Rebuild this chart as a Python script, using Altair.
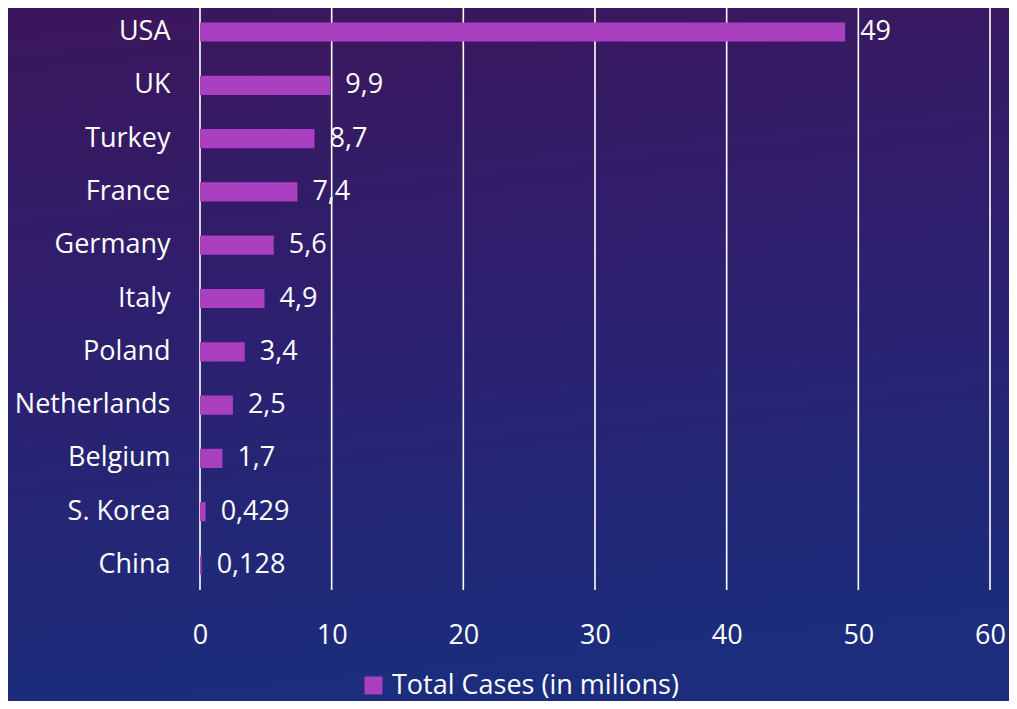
import altair as alt
import pandas as pd

countries = ["USA", "UK", "Turkey", "France", "Germany", "Italy", "Poland",
             "Netherlands", "Belgium", "S. Korea", "China"]
cases = [49, 9.9, 8.7, 7.4, 5.6, 4.9, 3.4, 2.5, 1.7, 0.429, 0.128]
ticks = [0, 10, 20, 30, 40, 50, 60]
series_name = "Total Cases (in milions)"

FONT = "Open Sans"
FS = 27
BAR = "#AA3FBF"

df = pd.DataFrame({
    "country": countries,
    "cases": cases,
    "label": [str(v).replace(".", ",") for v in cases],
})
grid_df = pd.DataFrame({"t": ticks})

W, H = 790, 581
PL, PT, PR, PB = 192, 0, 1001 - 192 - 790, 112

bg = alt.Chart(pd.DataFrame({"a": [0]})).mark_rect(
    color=alt.Gradient(
        gradient="linear", x1=0, y1=0, x2=0.15, y2=1,
        stops=[alt.GradientStop(offset=0, color="#3c165c"),
               alt.GradientStop(offset=0.45, color="#2e1f6e"),
               alt.GradientStop(offset=1, color="#1b2d7c")]),
).encode(
    x=alt.value(-PL), x2=alt.value(W + PR),
    y=alt.value(-PT), y2=alt.value(H + PB),
)

xscale = alt.Scale(domain=[0, 60], nice=False)

grid = alt.Chart(grid_df).mark_rule(color="white", strokeWidth=1.6).encode(
    x=alt.X("t:Q", scale=xscale,
            axis=alt.Axis(values=ticks, title=None, domain=False, ticks=False,
                          grid=False, labelColor="white", labelFont=FONT,
                          labelFontSize=FS, labelPadding=33, labelFlush=False,
                          labelOverlap=False, labelBound=False, zindex=1)),
    y=alt.value(-3), y2=alt.value(H + 1),
)

ysc = alt.Scale(paddingInner=0.64, paddingOuter=0.27)
yenc = alt.Y("country:N", sort=countries, scale=ysc,
             axis=alt.Axis(title=None, domain=False, ticks=False, grid=False,
                           labelColor="white", labelFont=FONT, labelFontSize=FS,
                           labelPadding=30, labelLimit=0, zindex=1))

bars = alt.Chart(df).mark_bar().encode(
    x=alt.X("cases:Q", scale=xscale),
    y=yenc,
    color=alt.Color("s:N",
                    scale=alt.Scale(domain=[series_name], range=[BAR]),
                    legend=alt.Legend(title=None, orient="none", legendX=160,
                                      legendY=664, symbolType="square",
                                      symbolSize=324, symbolStrokeWidth=0,
                                      labelColor="white", labelFont=FONT,
                                      labelFontSize=FS, labelOffset=5,
                                      labelLimit=0, zindex=1)),
).transform_calculate(s=f"'{series_name}'")

labels = alt.Chart(df).mark_text(
    align="left", baseline="middle", dx=15, color="white",
    font=FONT, fontSize=FS,
).encode(
    x=alt.X("cases:Q", scale=xscale),
    y=yenc,
    text="label:N",
)

chart = alt.layer(bg, grid, bars, labels).properties(
    width=W, height=H,
    autosize=alt.AutoSizeParams(type="none"),
    padding={"left": PL, "top": PT, "right": PR, "bottom": PB},
).configure_view(stroke=None).configure(background="#1b2d7c")

chart.save("out.html", embed_options={"renderer": "svg", "actions": False})
